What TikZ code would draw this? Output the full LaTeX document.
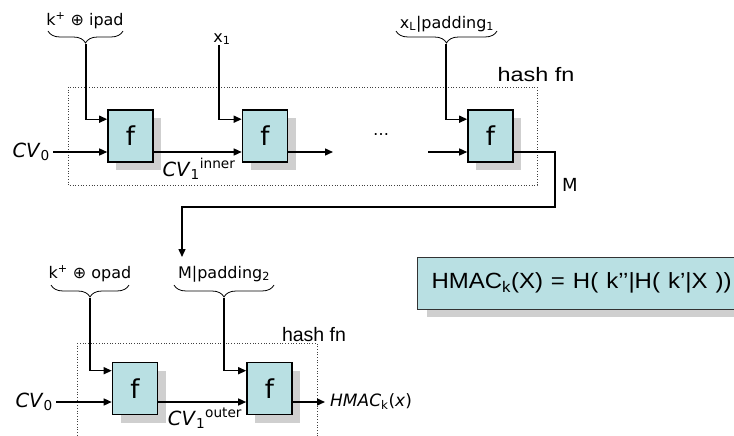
\documentclass[tikz,border=0pt]{standalone}
\usepackage{fontspec}
\usepackage{graphicx}
\setmainfont{DejaVu Sans}
\newfontfamily\arialfont{Liberation Sans}
\usetikzlibrary{arrows.meta,decorations.pathreplacing,shadows,calc}
\definecolor{fboxc}{HTML}{B9E0E3}
\begin{document}
\begin{tikzpicture}[x=1pt,y=-1pt,
  fblk/.style={draw=black, line width=1.6pt, fill=fboxc, minimum width=45pt, minimum height=52pt, inner sep=0pt,
     font=\fontsize{26}{28}\selectfont,
     general shadow={shadow xshift=8pt, shadow yshift=-8pt, fill=gray!38}},
  conn/.style={line width=1.4pt, -{Triangle[length=8pt,width=7pt]}},
  hbox/.style={draw=black!75, dotted, line width=0.7pt},
  lbl/.style={font=\fontsize{16}{18}\selectfont, inner sep=0pt},
  cvl/.style={font=\fontsize{19.5}{21}\selectfont, inner sep=0pt},
  hlbl/.style={font=\arialfont\fontsize{19.5}{22}\selectfont, inner sep=0pt},
  brc/.style={decorate, decoration={brace, mirror, amplitude=12pt, aspect=0.5}, line width=0.8pt},
  hmac/.style={draw=black!80, line width=1pt, fill=fboxc, minimum height=52pt, inner xsep=14pt,
     text width=312pt, align=left, font=\arialfont\fontsize{22}{24}\selectfont,
     general shadow={shadow xshift=9pt, shadow yshift=-8pt, fill=gray!38}}
]
\useasboundingbox (0,0) rectangle (734,436);

% hash function frames
\draw[hbox] (68,87) rectangle (537,185);
\draw[hbox] (77,343) rectangle (317,445);

% row lines
\coordinate (r1) at (0,152);
\coordinate (r2) at (0,402);

% compression boxes
\node[fblk] (f1) at (130.5,136) {f};
\node[fblk] (f2) at (265,136) {f};
\node[fblk] (f3) at (490.5,136) {f};
\node[fblk] (f4) at (135,388.5) {f};
\node[fblk] (f5) at (269.5,388.5) {f};

% labels
\node[hlbl] (hf1) at (536,75) {\scalebox{1.2}[1]{hash fn}};
\node[hlbl] (hf2) at (314,335) {hash fn};

\node[lbl] (kip) at (85,21) {k\textsuperscript{+} ⊕ ipad};
\node[lbl] (x1) at (222,39) {x\textsubscript{1}};
\node[lbl] (xl) at (447,24) {x\textsubscript{L}|padding\textsubscript{1}};
\node[lbl] (kop) at (90,274) {k\textsuperscript{+} ⊕ opad};
\node[lbl] (mp) at (224,274) {M|padding\textsubscript{2}};

\node[cvl, anchor=east] (cv0a) at (50,152) {\textit{CV}\textsubscript{0}};
\node[cvl, anchor=east] (cv0b) at (53,402) {\textit{CV}\textsubscript{0}};
\node[cvl] (cvin) at (199,169) {\textit{CV}\textsubscript{1}\textsuperscript{inner}};
\node[cvl] (cvout) at (205,418) {\textit{CV}\textsubscript{1}\textsuperscript{outer}};
\node[lbl] (dots) at (381,135) {…};
\node[font=\fontsize{18}{20}\selectfont, inner sep=0pt] (mlbl) at (570,185) {M};
\node[lbl, anchor=west, font=\fontsize{17}{19}\selectfont] (out) at (330,402) {\textit{HMAC}\textsubscript{k}(\textit{x})};

% braces
\draw[brc] (48,31) -- (123,31);
\coordinate (b1) at (86,44);
\draw[brc] (396,31) -- (497,31);
\coordinate (b2) at (446,44);
\draw[brc] (51,285) -- (129,285);
\coordinate (b3) at (90,298);
\draw[brc] (174,285) -- (274,285);
\coordinate (b4) at (224,298);

% key/message inputs
\draw[conn] (b1) |- ($(f1.north west)+(0,10)$);
\draw[conn] (x1.south -| 219,0) |- ($(f2.north west)+(0,10)$);
\draw[conn] (b2) |- ($(f3.north west)+(0,10)$);
\draw[conn] (b3) |- ($(f4.north west)+(0,9)$);
\draw[conn] (b4) |- ($(f5.north west)+(0,9)$);

% chaining values
\draw[conn] ($(cv0a.east)+(3,0)$) -- (f1.west |- r1);
\draw[conn] (f1.east |- r1) -- (f2.west |- r1);
\draw[conn] (f2.east |- r1) -- (333,152);
\draw[conn] (428,152) -- (f3.west |- r1);

\draw[conn] ($(cv0b.east)+(3,0)$) -- (f4.west |- r2);
\draw[conn] (f4.east |- r2) -- (f5.west |- r2);
\draw[conn, shorten >=5pt] (f5.east |- r2) -- (out.west);

% M feedback
\coordinate (mc) at (555,207);
\coordinate (mend) at (182,257);
\draw[conn] (f3.east |- r1) -- (mc |- r1) -- (mc) -- (mc -| mend) -- (mend);

% formula
\node[hmac, anchor=west] (hm) at (417,283) {\scalebox{1.09}[1]{HMAC\textsubscript{k}(X) = H( k’’|H( k’|X ))}};
\end{tikzpicture}
\end{document}
